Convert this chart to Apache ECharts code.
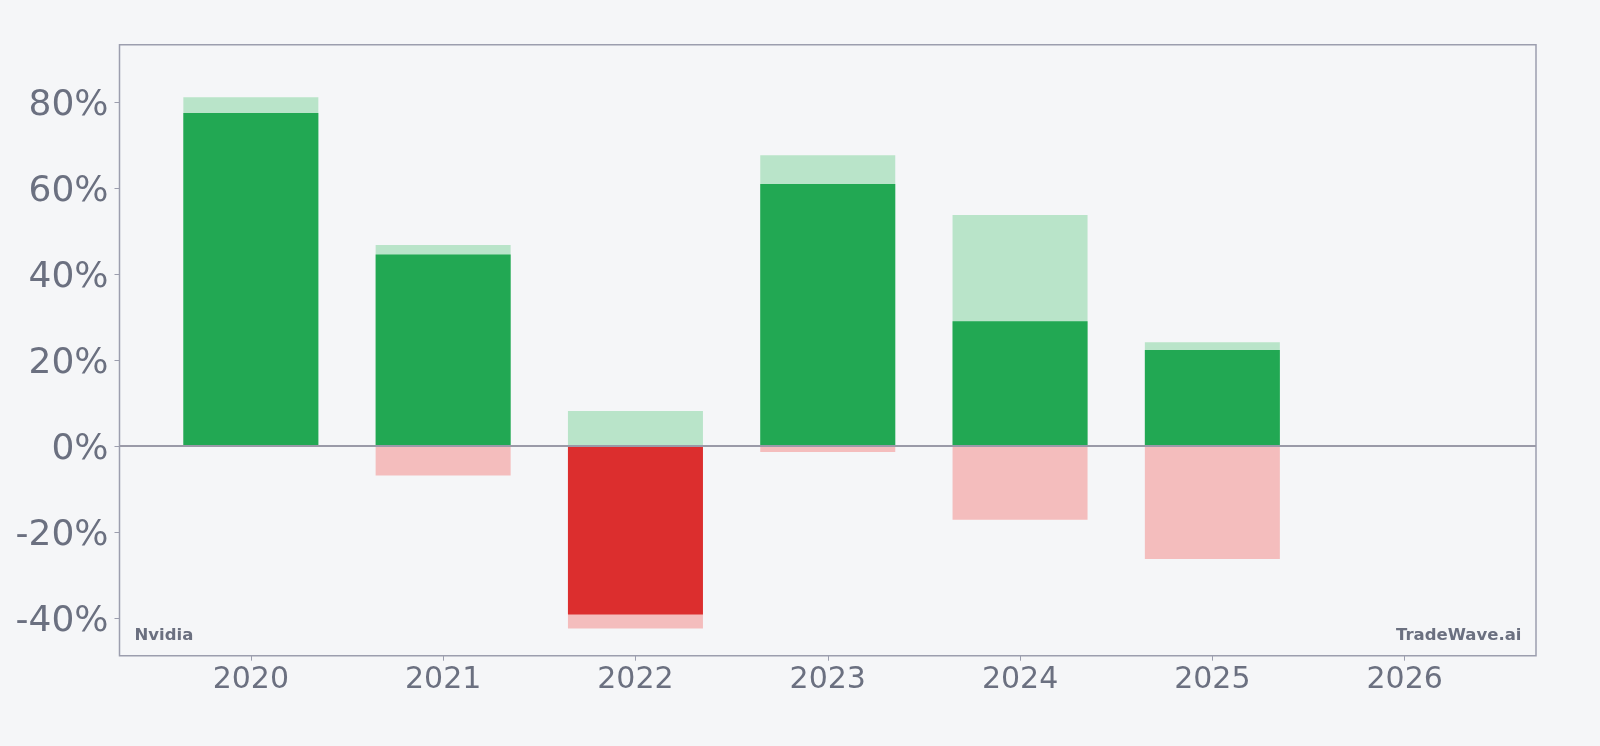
<!DOCTYPE html>
<html>
<head>
<meta charset="utf-8">
<script src="https://cdn.jsdelivr.net/npm/echarts@6/dist/echarts.min.js"></script>
<style>
html,body{margin:0;padding:0;background:#f5f6f8;}
#chart{width:1600px;height:746px;}
</style>
</head>
<body>
<div id="chart"></div>
<script>
const years = ['2020','2021','2022','2023','2024','2025','2026'];
const maxGain = [81.1, 46.7, 8.1, 67.6, 53.7, 24.1, null];
const maxDrawdown = [0, -6.9, -42.5, -1.4, -17.2, -26.3, null];
const annualReturn = [77.4, 44.5, -39.2, 60.9, 29.0, 22.3, null];
const yTicks = [-40, -20, 0, 20, 40, 60, 80];

const textColor = '#6b7080';
const frameColor = '#9c9eae';
const xIdx = years.map((_, i) => i);

const chart = echarts.init(document.getElementById('chart'));
chart.setOption({
  backgroundColor: '#f5f6f8',
  animation: false,
  grid: {
    left: 119.5, right: 64, top: 44.7, bottom: 90.3,
    show: true, borderColor: frameColor, borderWidth: 1.5,
    backgroundColor: 'transparent'
  },
  xAxis: {
    type: 'value', min: -0.683, max: 6.683,
    axisLine: { show: false, onZero: false },
    splitLine: { show: false },
    axisTick: { show: true, customValues: xIdx, length: 5, lineStyle: { color: frameColor, width: 1 } },
    axisLabel: {
      customValues: xIdx,
      formatter: v => years[Math.round(v)],
      color: textColor, fontSize: 30, fontFamily: 'DejaVu Sans', margin: 10
    }
  },
  yAxis: {
    type: 'value', min: -48.8, max: 93.3,
    axisLine: { show: false, onZero: false },
    splitLine: { show: false },
    axisTick: { show: true, customValues: yTicks, length: 5, lineStyle: { color: frameColor, width: 1 } },
    axisLabel: {
      customValues: yTicks,
      formatter: v => '{a|' + Math.round(v) + '%}',
      margin: 11,
      rich: {
        a: { color: textColor, fontSize: 36, fontFamily: 'DejaVu Sans', padding: [8, 0, 0, 0] }
      }
    }
  },
  series: [
    {
      name: 'Max gain', type: 'bar', barWidth: 135, barGap: '-100%',
      itemStyle: { color: '#b9e4c9' },
      data: maxGain.map((v, i) => [i, v])
    },
    {
      name: 'Max drawdown', type: 'bar', barWidth: 135, barGap: '-100%',
      itemStyle: { color: '#f4bdbd' },
      data: maxDrawdown.map((v, i) => [i, v])
    },
    {
      name: 'Annual return', type: 'bar', barWidth: 135, barGap: '-100%',
      data: annualReturn.map((v, i) => ({
        value: [i, v],
        itemStyle: { color: v >= 0 ? '#22a853' : '#dc2e2e' }
      })),
      markLine: {
        silent: true, symbol: 'none', label: { show: false },
        lineStyle: { color: '#9a9aa8', width: 2, type: 'solid' },
        data: [{ yAxis: 0 }]
      }
    }
  ],
  graphic: [
    { type: 'text', left: 134.5, top: 627.5, style: { text: 'Nvidia', fill: textColor, font: 'bold 16.5px "DejaVu Sans"' } },
    { type: 'text', right: 78.5, top: 627.5, style: { text: 'TradeWave.ai', fill: textColor, font: 'bold 16.5px "DejaVu Sans"' } }
  ]
});
</script>
</body>
</html>
